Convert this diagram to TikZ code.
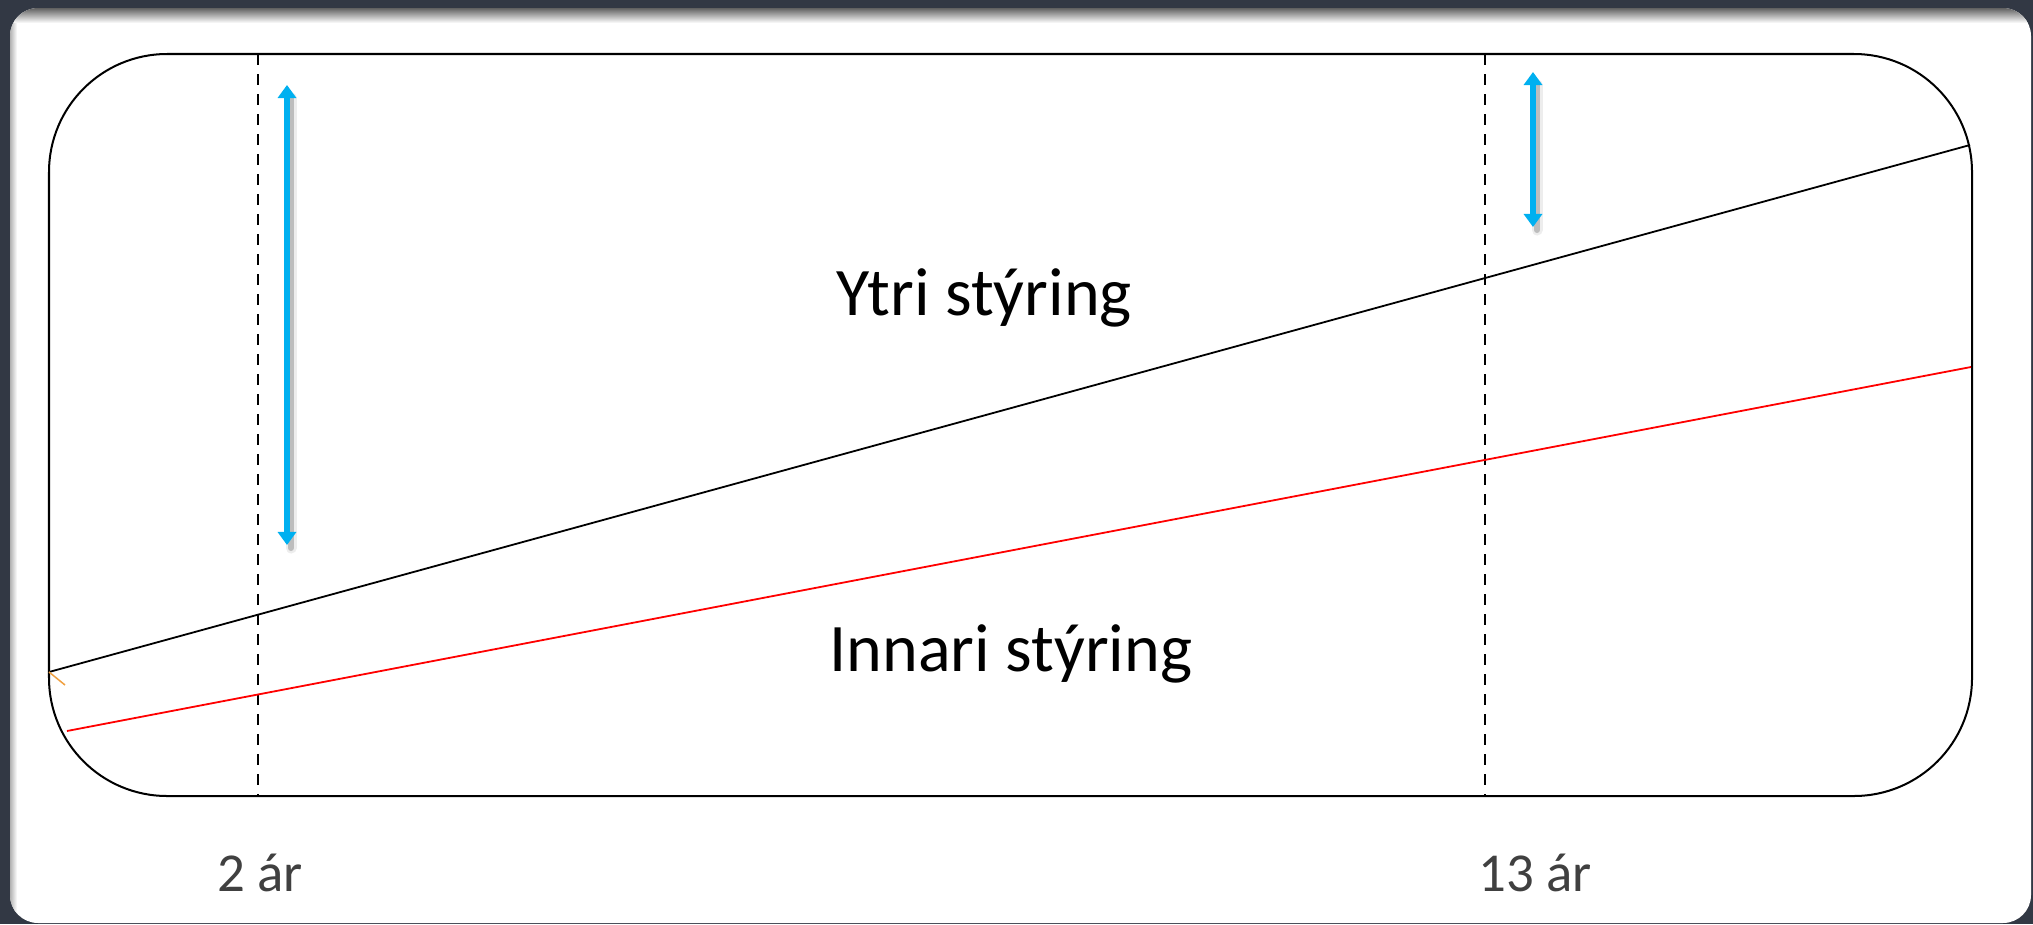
\documentclass[tikz,border=0pt]{standalone}
\usepackage{fontspec}
\setmainfont{Carlito}
\usetikzlibrary{arrows.meta}
\definecolor{framedark}{RGB}{50,56,68}
\definecolor{skyblue}{RGB}{0,176,240}
\definecolor{labelgray}{RGB}{64,64,64}
\definecolor{ticko}{RGB}{240,160,64}
\begin{document}
\begin{tikzpicture}[x=0.01cm,y=-0.01cm,
  boxline/.style={line width=0.02cm, rounded corners=1.18cm},
  dashline/.style={line width=0.018cm, dash pattern=on 0.11cm off 0.09cm},
  outerline/.style={line width=0.018cm, black},
  innerline/.style={line width=0.018cm, red},
  bluearrow/.style={line width=0.06cm, skyblue, {Triangle[width=0.18cm,length=0.13cm]}-{Triangle[width=0.18cm,length=0.13cm]}},
  arrowshadow/.style={line width=0.06cm, black, opacity=0.2, line cap=round},
  arrowhalo/.style={line width=0.11cm, black, opacity=0.07, line cap=round},
  bigtext/.style={font=\fontsize{19.35pt}{23pt}\selectfont, inner sep=0pt, anchor=base},
  yearlabel/.style={font=\fontsize{15.6pt}{19pt}\selectfont, text=labelgray, inner sep=0pt, anchor=base}
]
\useasboundingbox (0,0) rectangle (2033,924);
% dark frame and white panel
\fill[framedark] (0,0) rectangle (2033,924);
\fill[white, rounded corners=0.28cm] (10,8) rectangle (2031,923);
\begin{scope}
  \clip[rounded corners=0.28cm] (10,8) rectangle (2031,923);
  \shade[top color=black!62, bottom color=white] (0,8) rectangle (2033,23);
  \shade[left color=black!30, right color=white] (10,23) rectangle (17,924);
\end{scope}
% coordinates
\coordinate (boxTL) at (49,54);
\coordinate (boxBR) at (1972,796);
\coordinate (dAtop) at (258,54);
\coordinate (dAbot) at (258,796);
\coordinate (dBtop) at (1485,54);
\coordinate (dBbot) at (1485,796);
\coordinate (blackL) at (49,672);
\coordinate (blackR) at (1970,145);
\coordinate (redL) at (67,731);
\coordinate (redR) at (1971,367);
\coordinate (tickA) at (49,672);
\coordinate (tickB) at (65,685);
\coordinate (arrAtop) at (287,85);
\coordinate (arrAbot) at (287,545);
\coordinate (arrBtop) at (1533,72);
\coordinate (arrBbot) at (1533,227);
\coordinate (shAtop) at (291,98);
\coordinate (shAbot) at (291,548);
\coordinate (shBtop) at (1537,85);
\coordinate (shBbot) at (1537,230);
% rounded box
\draw[boxline] (boxTL) rectangle (boxBR);
% dashed verticals
\draw[dashline] (dAtop) -- (dAbot);
\draw[dashline] (dBtop) -- (dBbot);
% lines
\draw[outerline] (blackL) -- (blackR);
\draw[innerline] (redL) -- (redR);
\draw[line width=0.015cm, ticko] (tickA) -- (tickB);
% arrows with soft shadows
\draw[arrowhalo] (shAtop) -- (shAbot);
\draw[arrowhalo] (shBtop) -- (shBbot);
\draw[arrowshadow] (shAtop) -- (shAbot);
\draw[arrowshadow] (shBtop) -- (shBbot);
\draw[bluearrow] (arrAtop) -- (arrAbot);
\draw[bluearrow] (arrBtop) -- (arrBbot);
% texts
\node[bigtext] (ytri) at (984,315) {Ytri stýring};
\node[bigtext] (innari) at (1011,671) {Innari stýring};
\node[yearlabel] (two) at (260,891) {2 ár};
\node[yearlabel] (thirteen) at (1535,891) {13 ár};
\end{tikzpicture}
\end{document}
